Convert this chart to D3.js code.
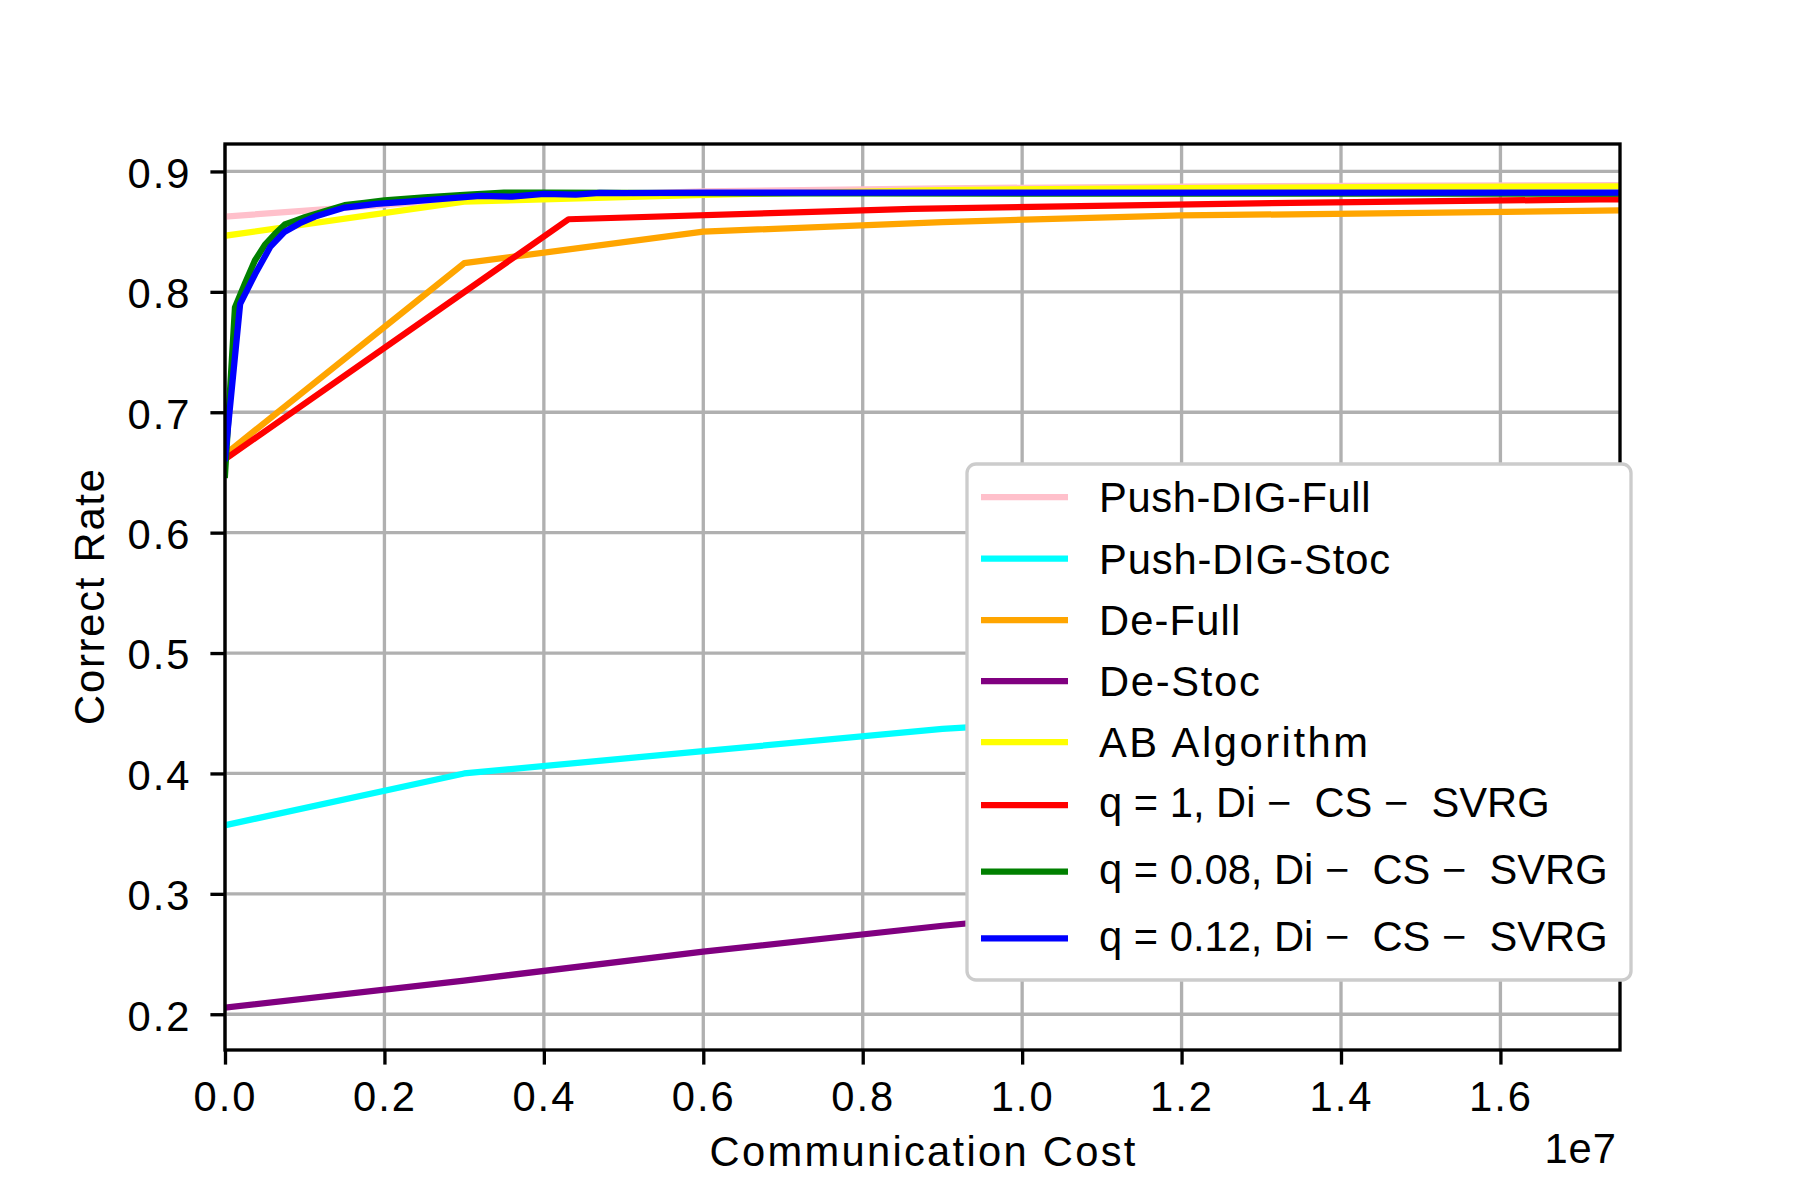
<!DOCTYPE html>
<html>
<head>
<meta charset="utf-8">
<script src="https://cdn.jsdelivr.net/npm/d3@7"></script>
<style>
  body { margin: 0; background: #fff; }
  text { font-family: "Liberation Sans", Arial, sans-serif; fill: #000; }
</style>
</head>
<body>
<div id="chart"></div>
<script>
// communication cost (raw units) and correct rate
const stepX = [0, 3e6, 6e6, 9e6, 12e6, 15e6, 18e6];
const pushFullY = [0.8625, 0.877, 0.8835, 0.886, 0.8875, 0.8883, 0.8886];
const pushStocY = [0.357, 0.400, 0.4185, 0.437, 0.449, 0.458, 0.465];
const deFullY = [0.665, 0.8238, 0.850, 0.858, 0.8635, 0.8655, 0.868];
const deStocY = [0.2055, 0.228, 0.252, 0.2735, 0.292, 0.307, 0.320];
const abY = [0.8466, 0.875, 0.8805, 0.8845, 0.8862, 0.8871, 0.8876];

const q1X = [0, 4.31e6, 8.62e6, 12.93e6, 17.24e6, 21.55e6];
const q1Y = [0.661, 0.8603, 0.8689, 0.8735, 0.8768, 0.8785];

const q008X = [0, 1.25e5, 2.5e5, 3.75e5, 5e5, 6.25e5, 7.5e5, 8.75e5, 1e6, 1.25e6, 1.5e6,
  1.75e6, 2e6, 2.5e6, 3e6, 3.5e6, 4e6, 5e6, 6e6, 8e6, 1e7, 1.2e7, 1.4e7, 1.6e7, 1.75e7];
const q008Y = [0.648, 0.787, 0.807, 0.826, 0.839, 0.848, 0.856, 0.859, 0.862, 0.867, 0.872,
  0.874, 0.876, 0.8785, 0.8805, 0.8825, 0.8825, 0.8822, 0.882, 0.8817, 0.8816, 0.8816, 0.8816, 0.8816, 0.8816];

const q012X = [0, 1.9e5, 3.8e5, 5.7e5, 7.5e5, 9.4e5, 1.13e6, 1.5e6, 1.9e6, 2.3e6, 2.65e6,
  3.2e6, 3.6e6, 4e6, 4.4e6, 4.7e6, 5e6, 6e6, 1e7, 1.4e7, 1.75e7];
const q012Y = [0.662, 0.790, 0.815, 0.8376, 0.850, 0.857, 0.8625, 0.870, 0.873, 0.875, 0.8769,
  0.8797, 0.879, 0.8813, 0.8808, 0.8822, 0.882, 0.8825, 0.8825, 0.8825, 0.8825];

const xTicks = [0, 2e6, 4e6, 6e6, 8e6, 1e7, 1.2e7, 1.4e7, 1.6e7];
const yTicks = [0.2, 0.3, 0.4, 0.5, 0.6, 0.7, 0.8, 0.9];

const series = [
  {label: "Push-DIG-Full", color: "pink", x: stepX, y: pushFullY},
  {label: "Push-DIG-Stoc", color: "#00ffff", x: stepX, y: pushStocY},
  {label: "De-Full", color: "#ffa500", x: stepX, y: deFullY},
  {label: "De-Stoc", color: "#800080", x: stepX, y: deStocY},
  {label: "AB Algorithm", color: "#ffff00", x: stepX, y: abY},
  {label: "q = 1, Di \u2212  CS \u2212  SVRG", color: "#ff0000", x: q1X, y: q1Y, math: true},
  {label: "q = 0.08, Di \u2212  CS \u2212  SVRG", color: "#008000", x: q008X, y: q008Y, math: true},
  {label: "q = 0.12, Di \u2212  CS \u2212  SVRG", color: "#0000ff", x: q012X, y: q012Y, math: true}
];

const W = 1800, H = 1200;
const box = {left: 225, right: 1620, top: 144, bottom: 1050};
const FS = 41.7, LW = 6.25, THIN = 3.33;

const svg = d3.select("#chart").append("svg")
  .attr("width", W).attr("height", H)
  .attr("viewBox", "0 0 " + W + " " + H);

svg.append("rect").attr("width", W).attr("height", H).attr("fill", "#fff");

let x = d3.scaleLinear().domain([0, 1.75e7]).range([box.left, box.right]);
let y = d3.scaleLinear().domain([0.1703, 0.9228]).range([box.bottom, box.top]);

// width a string would take in DejaVu Sans, the original's metrics
function fitWidth(sel) {
  const probe = svg.append("text").style("font-family", "DejaVu Sans").style("font-size", FS + "px");
  sel.each(function () {
    probe.text(this.textContent);
    d3.select(this)
      .attr("textLength", probe.node().getComputedTextLength() * 0.98)
      .attr("lengthAdjust", "spacing");
  });
  probe.remove();
}

// grid
svg.append("g").selectAll("line").data(xTicks).join("line")
  .attr("x1", d => x(d)).attr("x2", d => x(d))
  .attr("y1", box.top).attr("y2", box.bottom)
  .attr("stroke", "#b0b0b0").attr("stroke-width", THIN);
svg.append("g").selectAll("line").data(yTicks).join("line")
  .attr("x1", box.left).attr("x2", box.right)
  .attr("y1", d => y(d)).attr("y2", d => y(d))
  .attr("stroke", "#b0b0b0").attr("stroke-width", THIN);

svg.append("clipPath").attr("id", "plot-clip")
  .append("rect")
  .attr("x", box.left).attr("y", box.top)
  .attr("width", box.right - box.left).attr("height", box.bottom - box.top);

let line = d3.line()
  .x(function (d) { return x(d[0]); })
  .y(function (d) { return y(d[1]); });

svg.append("g").attr("clip-path", "url(#plot-clip)")
  .selectAll("path").data(series).join("path")
  .attr("fill", "none")
  .attr("stroke", d => d.color)
  .attr("stroke-width", LW)
  .attr("stroke-linejoin", "round")
  .attr("stroke-linecap", "square")
  .attr("d", d => line(d.x.map((v, i) => [v, d.y[i]])));

// axes
let xAxis = svg.append("g")
  .attr("transform", "translate(0," + box.bottom + ")")
  .call(d3.axisBottom(x).tickValues(xTicks)
    .tickFormat(d => (d / 1e7).toFixed(1))
    .tickSize(14.6).tickPadding(17));
let yAxis = svg.append("g")
  .attr("transform", "translate(" + box.left + ",0)")
  .call(d3.axisLeft(y).tickValues(yTicks)
    .tickFormat(d => d.toFixed(1))
    .tickSize(14.6).tickPadding(19));

[xAxis, yAxis].forEach(function (g) {
  g.select(".domain").remove();
  g.selectAll(".tick line").attr("stroke", "#000").attr("stroke-width", THIN);
  g.selectAll(".tick text")
    .attr("font-family", null)
    .style("font-size", FS + "px")
    .style("letter-spacing", "2px");
});
yAxis.selectAll(".tick text").attr("dy", "0.38em");

// spines
svg.append("rect")
  .attr("x", box.left).attr("y", box.top)
  .attr("width", box.right - box.left).attr("height", box.bottom - box.top)
  .attr("fill", "none").attr("stroke", "#000").attr("stroke-width", THIN);

// labels
let xLabel = svg.append("text")
  .attr("x", (box.left + box.right) / 2).attr("y", 1166)
  .attr("text-anchor", "middle")
  .style("font-size", FS + "px")
  .text("Communication Cost");
let yLabel = svg.append("text")
  .attr("transform", "translate(104," + (box.top + box.bottom) / 2 + ") rotate(-90)")
  .attr("text-anchor", "middle")
  .style("font-size", FS + "px")
  .text("Correct Rate");
fitWidth(xLabel);
fitWidth(yLabel);

svg.append("text")
  .attr("x", 1617).attr("y", 1163)
  .attr("text-anchor", "end")
  .style("font-size", FS + "px")
  .style("letter-spacing", "1px")
  .text("1e7");

// legend
const rowY = [497, 558.5, 620, 681, 742, 805, 871.7, 938.3];
let legend = svg.append("g");
legend.append("rect")
  .attr("x", 967).attr("y", 464)
  .attr("width", 664).attr("height", 516)
  .attr("rx", 9)
  .attr("fill", "#fff")
  .attr("stroke", "#cccccc").attr("stroke-width", THIN);

let rows = legend.selectAll("g.row").data(series).join("g")
  .attr("class", "row")
  .attr("transform", (d, i) => "translate(0," + rowY[i] + ")");
rows.append("line")
  .attr("x1", 981).attr("x2", 1068)
  .attr("stroke", d => d.color)
  .attr("stroke-width", LW);
let labels = rows.append("text")
  .attr("x", 1099)
  .attr("y", d => d.math ? 12.3 : 15.2)
  .style("font-size", FS + "px")
  .style("white-space", "pre")
  .text(d => d.label);
fitWidth(labels.filter(d => !d.math));
</script>
</body>
</html>
